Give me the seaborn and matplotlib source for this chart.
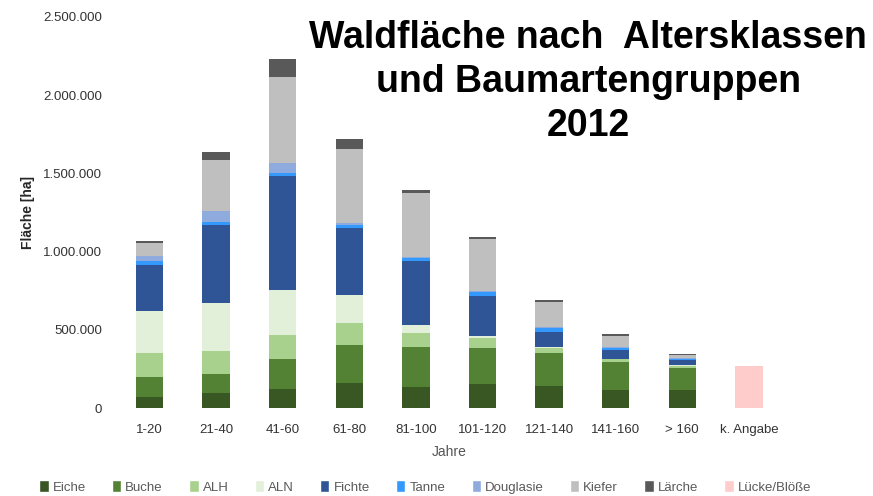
import numpy as np
import pandas as pd
import matplotlib
matplotlib.use("Agg")
import matplotlib.pyplot as plt
from matplotlib.patches import Patch
from matplotlib.ticker import FuncFormatter
import seaborn as sns

# age classes (x axis)
klassen = ["1-20", "21-40", "41-60", "61-80", "81-100", "101-120",
           "121-140", "141-160", "> 160", "k. Angabe"]

# area per tree species group in ha
eiche     = [72000, 98000, 120000, 158000, 137000, 154000, 141000, 115000, 115000, 0]
buche     = [128000, 118000, 192000, 246000, 252000, 233000, 209000, 182000, 141000, 0]
alh       = [150000, 149000, 158000, 139000, 90000, 60000, 33000, 15000, 15000, 0]
aln       = [274000, 310000, 286000, 181000, 53000, 17000, 5000, 3000, 2000, 0]
fichte    = [293000, 498000, 727000, 428000, 406000, 254000, 101000, 57000, 35000, 0]
tanne     = [21000, 15000, 17000, 21000, 22000, 26000, 26000, 12000, 6000, 0]
douglasie = [36000, 70000, 64000, 11000, 6000, 3000, 3000, 5000, 4000, 0]
kiefer    = [82000, 327000, 549000, 470000, 410000, 333000, 163000, 75000, 24000, 0]
laerche   = [10000, 54000, 118000, 64000, 17000, 13000, 11000, 12000, 2000, 0]
luecke    = [0, 0, 0, 0, 0, 0, 0, 0, 0, 269000]

arten = ["Eiche", "Buche", "ALH", "ALN", "Fichte", "Tanne", "Douglasie",
         "Kiefer", "Lärche", "Lücke/Blöße"]
farben = ["#385723", "#548235", "#A9D18E", "#E2F0D9", "#2F5597", "#3399FF",
          "#8FAADC", "#BFBFBF", "#595959", "#FFCCCC"]

df = pd.DataFrame({"Eiche": eiche, "Buche": buche, "ALH": alh, "ALN": aln,
                   "Fichte": fichte, "Tanne": tanne, "Douglasie": douglasie,
                   "Kiefer": kiefer, "Lärche": laerche, "Lücke/Blöße": luecke},
                  index=klassen)
cum = df[arten].cumsum(axis=1)

sns.set_style("white")
plt.rcParams["font.family"] = ["Liberation Sans", "DejaVu Sans"]

fig = plt.figure(figsize=(8.73, 4.96), dpi=100)
ax = fig.add_axes([0.133, 0.177, 0.763, 0.789])

# stacked bars: draw cumulative totals from top down
for art, farbe in zip(arten[::-1], farben[::-1]):
    sns.barplot(x=klassen, y=cum[art].values, color=farbe, width=0.41,
                errorbar=None, linewidth=0, saturation=1, ax=ax)

ax.set_ylim(0, 2500000)
ax.set_yticks(np.arange(0, 2500001, 500000))
ax.yaxis.set_major_formatter(FuncFormatter(lambda v, p: f"{v:,.0f}".replace(",", ".")))
ax.tick_params(axis="both", labelsize=9.5, length=0, colors="#333333")
ax.tick_params(axis="y", pad=10)
ax.tick_params(axis="x", pad=11.5)
ax.set_ylabel("Fläche [ha]", fontsize=10, fontweight="bold", labelpad=6)
ax.set_xlabel("Jahre", fontsize=10, color="#555555", labelpad=6)
for s in ax.spines.values():
    s.set_visible(False)

fig.text(0.674, 0.959, "Waldfläche nach  Altersklassen\nund Baumartengruppen\n2012",
         ha="center", va="top", fontsize=27, fontweight="bold", linespacing=1.28,
         color="black")

handles = [Patch(facecolor=c, label=a) for a, c in zip(arten, farben)]
fig.legend(handles=handles, loc="center", bbox_to_anchor=(0.487, 0.018), ncol=10,
           frameon=False, fontsize=9.5, handlelength=0.7, handleheight=1.0,
           handletextpad=0.3, columnspacing=2.0, labelcolor="#595959")

fig.savefig("out.png", dpi=100)
